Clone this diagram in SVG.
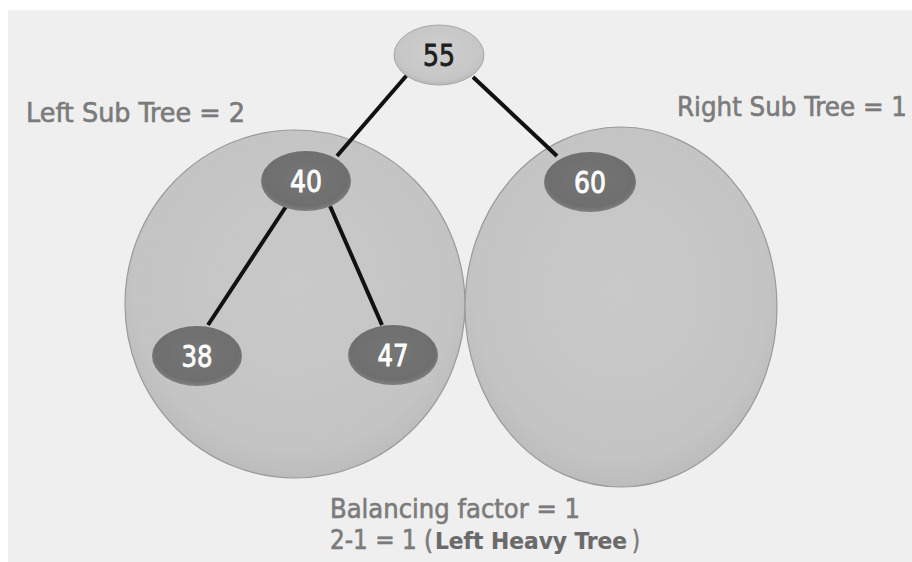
<svg xmlns="http://www.w3.org/2000/svg" width="912" height="562" viewBox="0 0 912 562">
  <defs>
    <radialGradient id="regionFill" cx="0.5" cy="0.45" r="0.55">
      <stop offset="0" stop-color="#c9c9c9"/>
      <stop offset="0.85" stop-color="#c4c4c4"/>
      <stop offset="1" stop-color="#bcbcbc"/>
    </radialGradient>
    <radialGradient id="darkNode" cx="0.5" cy="0.45" r="0.55">
      <stop offset="0" stop-color="#767676"/>
      <stop offset="0.85" stop-color="#6e6e6e"/>
      <stop offset="1" stop-color="#808080"/>
    </radialGradient>
    <radialGradient id="lightNode" cx="0.5" cy="0.45" r="0.55">
      <stop offset="0" stop-color="#cfcfcf"/>
      <stop offset="0.85" stop-color="#c6c6c6"/>
      <stop offset="1" stop-color="#b8b8b8"/>
    </radialGradient>
    <filter id="soft" x="-10%" y="-10%" width="120%" height="120%">
      <feGaussianBlur stdDeviation="0.5"/>
    </filter>
  </defs>
  <style>
    .region { fill: url(#regionFill); stroke: #9a9a9a; stroke-width: 1.2; }
    .node-dark { fill: url(#darkNode); filter: url(#soft); }
    .node-light { fill: url(#lightNode); stroke: #a8a8a8; stroke-width: 1; }
    .edge { stroke: #111; stroke-width: 4; stroke-linecap: butt; fill: none; }
    .label { font-family: "DejaVu Sans Condensed", "Liberation Sans", sans-serif; font-size: 27px; fill: #7b7b7b; stroke: #7b7b7b; stroke-width: 0.6; }
    .label-bold { font-size: 23.5px; font-weight: bold; fill: #6a6a6a; stroke: #6a6a6a; stroke-width: 0.2; }
    .num { font-family: "DejaVu Sans Condensed", "Liberation Sans", sans-serif; font-size: 30px; fill: #ffffff; stroke: #ffffff; stroke-width: 0.8; text-anchor: middle; }
    .num-dark { fill: #1e1e1e; stroke: #1e1e1e; }
  </style>

  <!-- page -->
  <rect x="0" y="0" width="912" height="562" fill="#ffffff"/>
  <rect x="8" y="10" width="904" height="552" fill="#efefef"/>

  <!-- subtree regions -->
  <g id="left-subtree-region">
    <ellipse class="region" cx="295" cy="304" rx="170" ry="174"/>
  </g>
  <g id="right-subtree-region">
    <ellipse class="region" cx="621" cy="307" rx="156" ry="180"/>
  </g>

  <!-- connectors -->
  <g id="connectors">
    <line class="edge" x1="407" y1="75" x2="337" y2="156"/>
    <line class="edge" x1="473" y1="77" x2="557" y2="156"/>
    <line class="edge" x1="287" y1="205" x2="208" y2="325"/>
    <line class="edge" x1="330" y1="206" x2="382" y2="325"/>
  </g>

  <!-- nodes -->
  <g id="node-55">
    <ellipse class="node-light" cx="439" cy="55" rx="45" ry="30"/>
    <text class="num num-dark" x="439" y="66" textLength="32" lengthAdjust="spacingAndGlyphs">55</text>
  </g>
  <g id="node-40">
    <ellipse class="node-dark" cx="306" cy="181" rx="45" ry="30"/>
    <text class="num" x="306" y="192" textLength="32" lengthAdjust="spacingAndGlyphs">40</text>
  </g>
  <g id="node-60">
    <ellipse class="node-dark" cx="590" cy="182" rx="46" ry="30"/>
    <text class="num" x="590" y="193" textLength="32" lengthAdjust="spacingAndGlyphs">60</text>
  </g>
  <g id="node-38">
    <ellipse class="node-dark" cx="197" cy="356" rx="45" ry="30"/>
    <text class="num" x="197" y="367" textLength="31" lengthAdjust="spacingAndGlyphs">38</text>
  </g>
  <g id="node-47">
    <ellipse class="node-dark" cx="393" cy="355" rx="45" ry="30"/>
    <text class="num" x="393" y="366" textLength="31" lengthAdjust="spacingAndGlyphs">47</text>
  </g>

  <!-- captions -->
  <text class="label" x="26" y="122" textLength="219" lengthAdjust="spacingAndGlyphs">Left Sub Tree = 2</text>
  <text class="label" x="677" y="116" textLength="230" lengthAdjust="spacingAndGlyphs">Right Sub Tree = 1</text>
  <text class="label" x="330" y="518" textLength="250" lengthAdjust="spacingAndGlyphs">Balancing factor = 1</text>
  <text class="label" x="330" y="549" textLength="103" lengthAdjust="spacingAndGlyphs">2-1 = 1 (</text>
  <text class="label label-bold" x="435" y="549" textLength="192" lengthAdjust="spacingAndGlyphs">Left Heavy Tree</text>
  <text class="label" x="632" y="549" textLength="8" lengthAdjust="spacingAndGlyphs">)</text>
</svg>
